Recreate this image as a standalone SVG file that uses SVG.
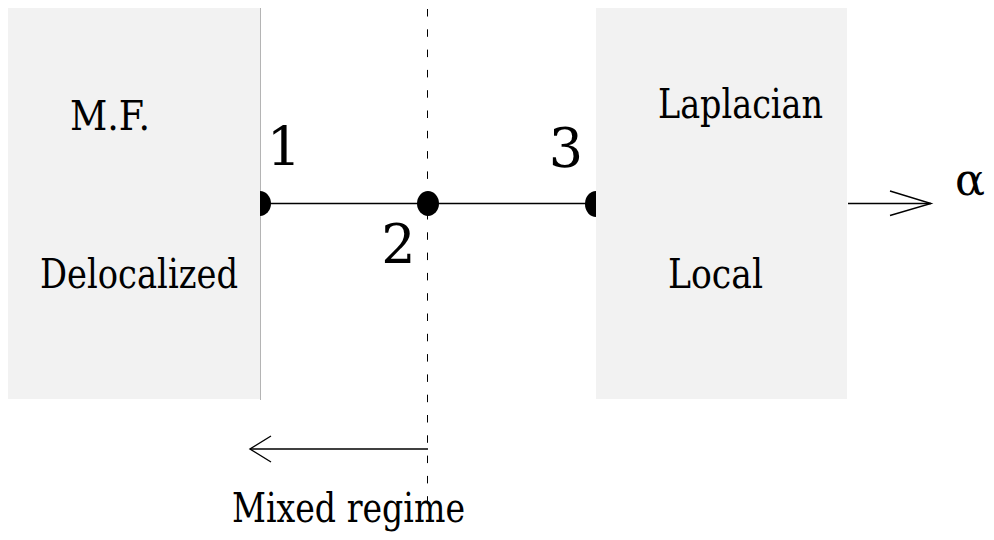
<svg xmlns="http://www.w3.org/2000/svg" width="994" height="540" viewBox="0 0 994 540">
<style>
.box{fill:#f2f2f2;stroke:none}
.lbl{font-size:41px;fill:#000}
.num{font-size:54px;fill:#000;text-anchor:middle}
.ln{stroke:#000;stroke-width:1.4;fill:none}
</style>
<rect width="994" height="540" fill="#fff"/>
<g id="mf-box" font-family="DejaVu Serif, Liberation Serif, serif">
<rect class="box" x="8" y="8" width="252" height="391"/>
<line x1="260.5" y1="8" x2="260.5" y2="400" stroke="#b4b4b4" stroke-width="1"/>
<text class="lbl" x="70" y="130" textLength="80" lengthAdjust="spacingAndGlyphs">M.F.</text>
<text class="lbl" x="40" y="288" textLength="198" lengthAdjust="spacingAndGlyphs">Delocalized</text>
</g>
<g id="laplacian-box" font-family="DejaVu Serif, Liberation Serif, serif">
<rect class="box" x="596" y="8" width="251" height="391"/>
<text class="lbl" x="658" y="118" textLength="165" lengthAdjust="spacingAndGlyphs">Laplacian</text>
<text class="lbl" x="668" y="288" textLength="95" lengthAdjust="spacingAndGlyphs">Local</text>
</g>
<g id="connectors">
<line class="ln" x1="260" y1="203.5" x2="596" y2="203.5"/>
<line x1="427.5" y1="9" x2="427.5" y2="505" stroke="#000" stroke-width="1" stroke-dasharray="7.5 12.8"/>
<line class="ln" x1="250" y1="449" x2="428" y2="449"/>
<polyline class="ln" points="271,436 250,449 271,462"/>
<line class="ln" x1="848" y1="203.5" x2="931" y2="203.5"/>
<polyline class="ln" points="890,191 931,203.5 890,215.5"/>
</g>
<g id="point-1" font-family="DejaVu Serif, Liberation Serif, serif">
<path d="M260,191 A11,12.5 0 0 1 260,216 Z" fill="#000"/>
<text class="num" x="284" y="166">1</text>
</g>
<g id="point-2" font-family="DejaVu Serif, Liberation Serif, serif">
<ellipse cx="428" cy="203.5" rx="11" ry="12.5" fill="#000"/>
<text class="num" x="398.5" y="263">2</text>
</g>
<g id="point-3" font-family="DejaVu Serif, Liberation Serif, serif">
<path d="M596,191 A11,13 0 0 0 596,217 Z" fill="#000"/>
<text class="num" x="566" y="167">3</text>
</g>
<g id="alpha" font-family="DejaVu Serif, Liberation Serif, serif">
<text x="955" y="195" font-size="44" textLength="30" lengthAdjust="spacingAndGlyphs">α</text>
</g>
<g id="mixed-regime" font-family="DejaVu Serif, Liberation Serif, serif">
<text class="lbl" x="232" y="522" textLength="233" lengthAdjust="spacingAndGlyphs">Mixed regime</text>
</g>
</svg>
